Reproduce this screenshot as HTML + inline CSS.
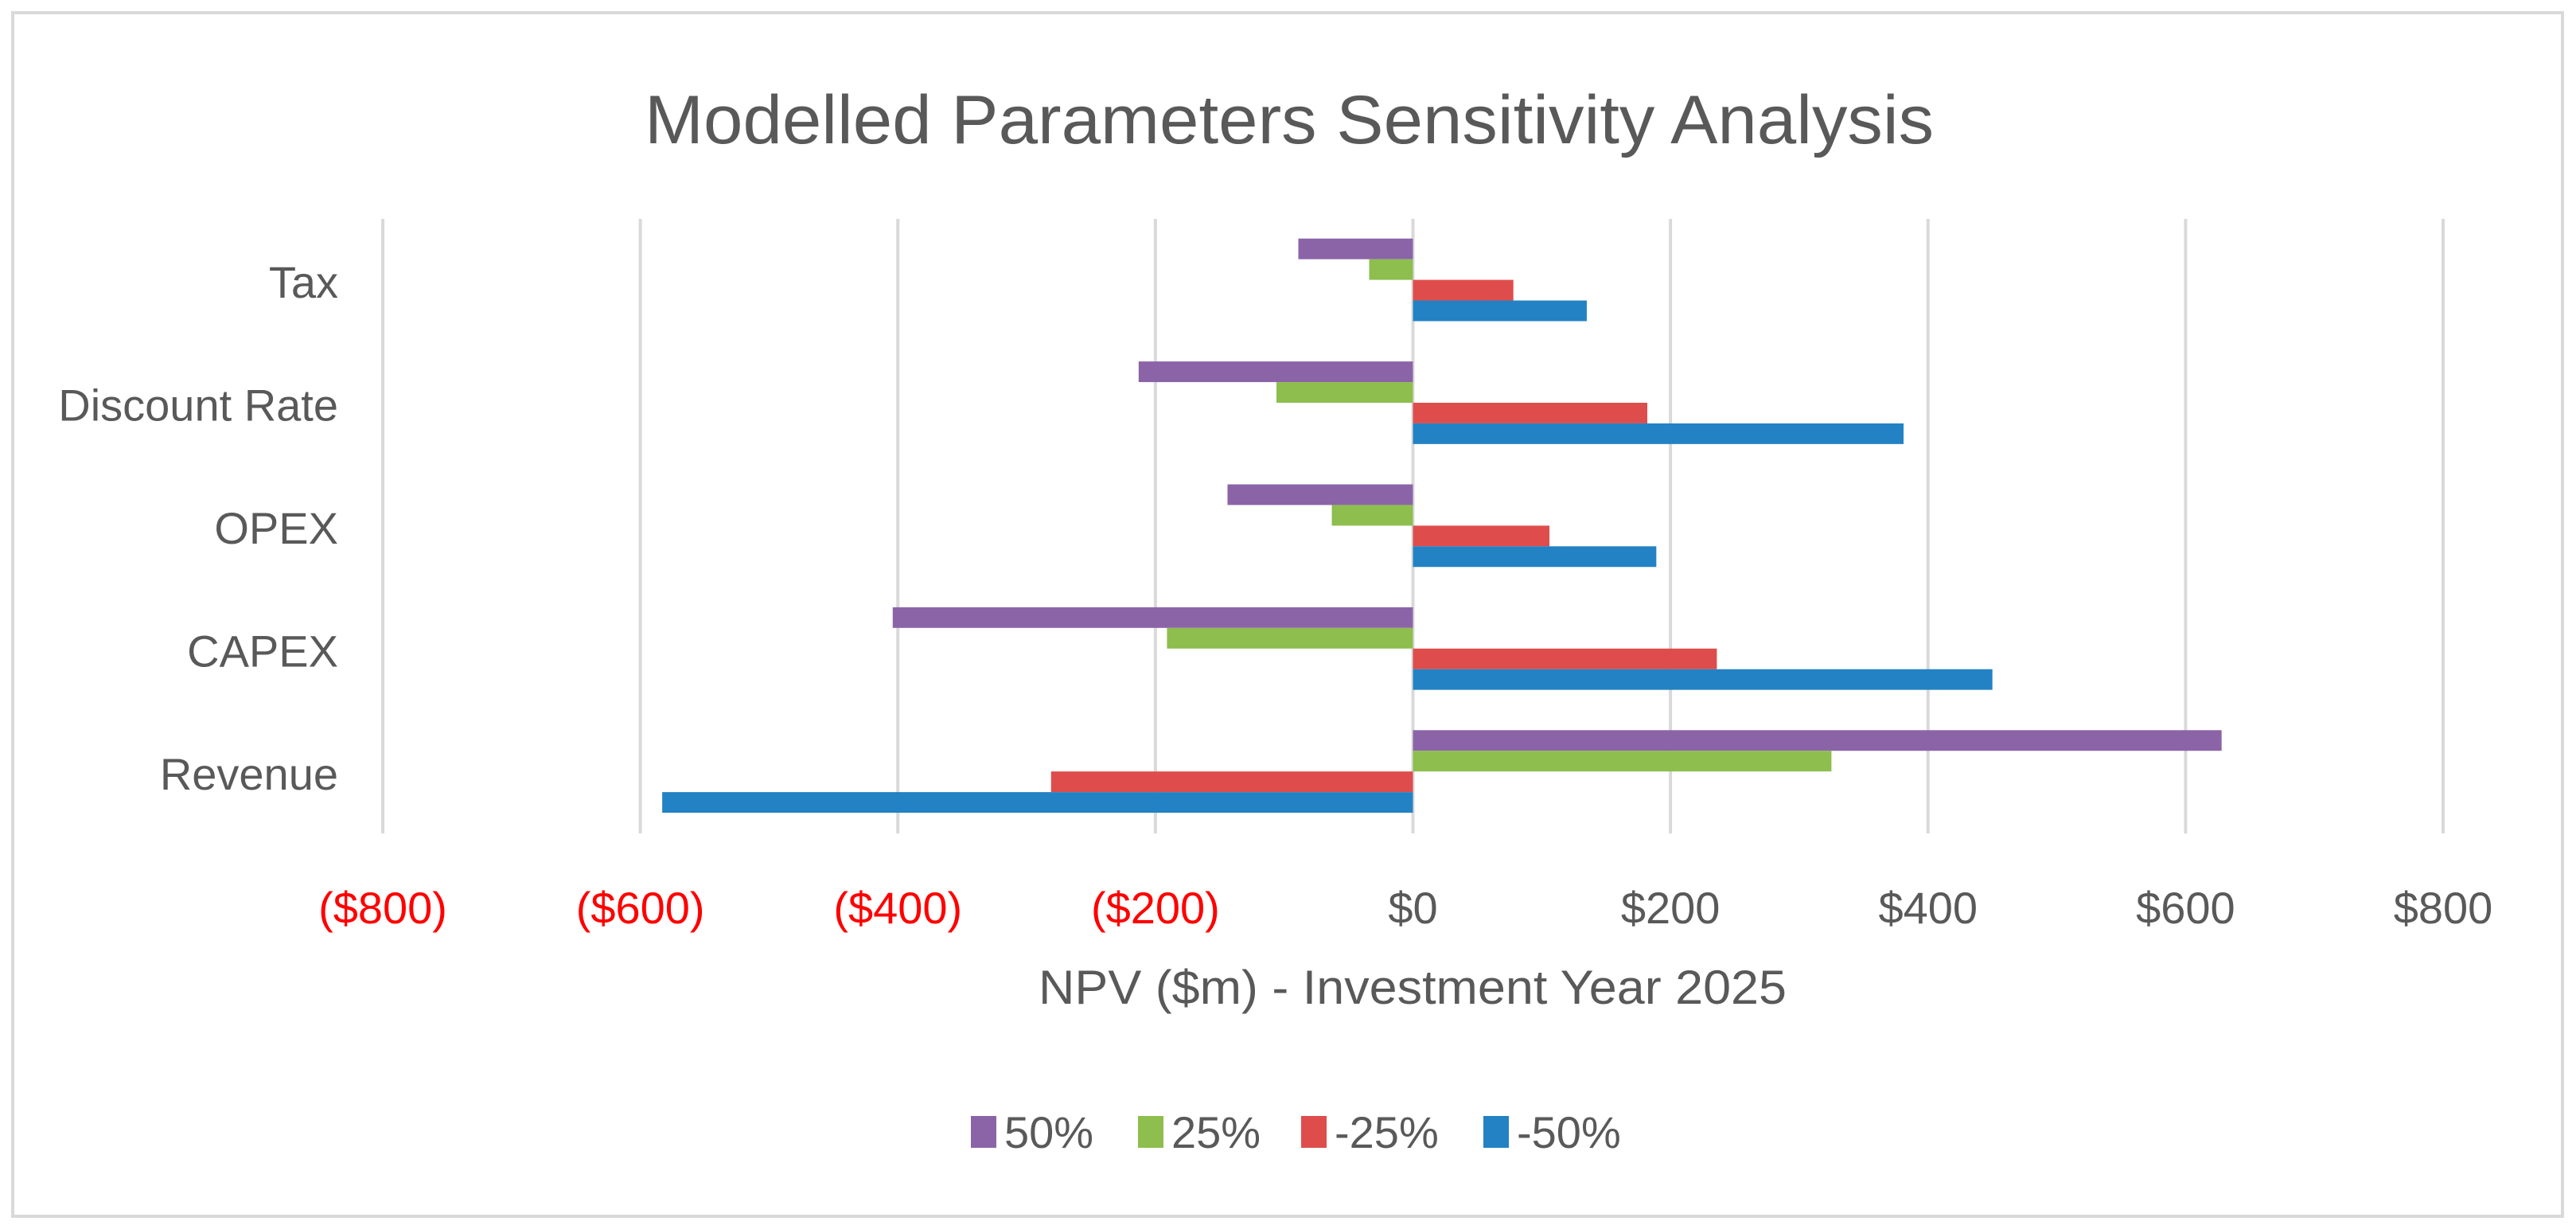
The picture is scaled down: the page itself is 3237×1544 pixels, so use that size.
<!DOCTYPE html>
<html><head><meta charset="utf-8"><style>
html,body{margin:0;padding:0;background:#fff;}
svg{display:block;font-family:"Liberation Sans",sans-serif;}
</style></head><body>
<svg id="chart" width="3237" height="1544" viewBox="0 0 3237 1544" xmlns="http://www.w3.org/2000/svg">
<rect x="16" y="16" width="3204" height="1512" fill="#fff" stroke="#d9d9d9" stroke-width="4"/>
<text x="1620" y="180" text-anchor="middle" font-size="86" fill="#595959" textLength="1620" lengthAdjust="spacingAndGlyphs">Modelled Parameters Sensitivity Analysis</text>
<g id="grid"></g><g id="bars"></g><g id="labels"></g>
<text x="1775" y="1261" text-anchor="middle" font-size="60" fill="#595959" textLength="940" lengthAdjust="spacingAndGlyphs">NPV ($m) - Investment Year 2025</text>
<g id="legend"></g>
</svg>
<script>
const categories = ["Tax","Discount Rate","OPEX","CAPEX","Revenue"];
const seriesNames = ["50%","25%","-25%","-50%"];
const s50 = [-89,-213,-144,-404,628];
const s25 = [-34,-106,-63,-191,325];
const sm25 = [78,182,106,236,-281];
const sm50 = [135,381,189,450,-583];
const ticks = [-800,-600,-400,-200,0,200,400,600,800];
const tickLabels = ["($800)","($600)","($400)","($200)","$0","$200","$400","$600","$800"];
const colors = ["#8B64A8","#8DBE4E","#DE4D4B","#2382C3"];
const NS="http://www.w3.org/2000/svg";
const px0=481,px1=3070,pTop=275,pBot=1047;
const xs=v=>px0+(v+800)/1600*(px1-px0);
const band=(pBot-pTop)/categories.length;
function mk(t,a,p){const e=document.createElementNS(NS,t);for(const k in a)e.setAttribute(k,a[k]);document.getElementById(p).appendChild(e);return e;}
ticks.forEach((t,i)=>{
 const g=mk("line",{x1:xs(t),x2:xs(t),y1:pTop,y2:pBot,stroke:"#d9d9d9","stroke-width":4},"grid");
 
 
 const l=mk("text",{x:xs(t),y:1160,"text-anchor":"middle","font-size":56,fill:t<0?"#FF0000":"#595959"},"labels");
 l.textContent=tickLabels[i];
 
 
});
const series=[s50,s25,sm25,sm50];
const bh=band*0.168, off=band*0.16;
categories.forEach((c,ci)=>{
 const by=pTop+ci*band;
 const l=mk("text",{x:425,y:by+band/2+22,"text-anchor":"end","font-size":56,fill:"#595959"},"labels");
 l.textContent=c;
 
 
 series.forEach((s,si)=>{
  const v=s[ci];
  const r=mk("rect",{x:Math.min(xs(0),xs(v)),y:by+off+si*bh,width:Math.abs(xs(v)-xs(0)),height:bh,fill:colors[si]},"bars");
  
  
 });
});
const lx=[1220,1430,1635,1864];
seriesNames.forEach((n,i)=>{
 const r=mk("rect",{x:lx[i],y:1402,width:32,height:40,fill:colors[i]},"legend");
 
 
 const t=mk("text",{x:lx[i]+42,y:1442,"font-size":56,fill:"#595959"},"legend");
 t.textContent=n;
 
 
});
</script>
</body></html>
